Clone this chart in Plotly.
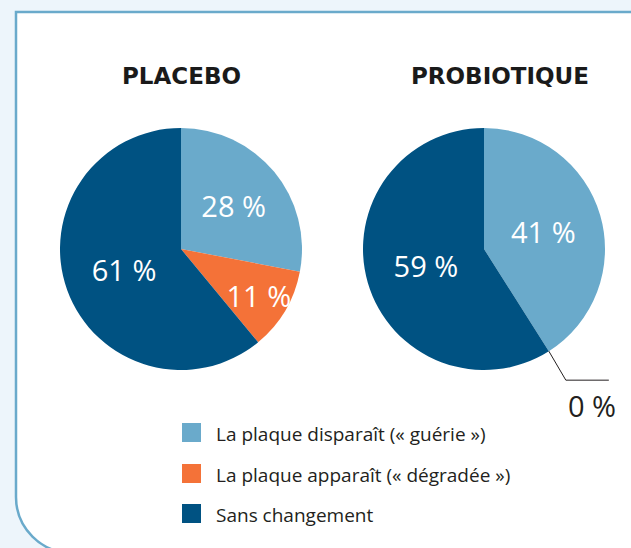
import math
import plotly.graph_objects as go

W, H = 631, 548

categories = ["La plaque disparaît (« guérie »)", "La plaque apparaît (« dégradée »)", "Sans changement"]
groups = ["PLACEBO", "PROBIOTIQUE"]
placebo_values = [28, 11, 61]
probiotique_values = [41, 0, 59]
colors = ["#6aaacb", "#f47238", "#005282"]

series = [placebo_values, probiotique_values]
centers_px = [(181, 249), (484, 249)]
radius_px = 121
title_x_px = [181, 500]
TEXT = "#231f20"
LABEL_FONT = dict(family="Open Sans", size=29)


def px(x):
    return x / W


def py(y):
    return 1 - y / H


fig = go.Figure()
for vals, (cx, cy) in zip(series, centers_px):
    fig.add_trace(go.Pie(
        values=vals,
        labels=categories,
        marker=dict(colors=colors, line=dict(width=0)),
        sort=False,
        direction="clockwise",
        rotation=0,
        texttemplate=["%{value} %" if v > 0 else "" for v in vals],
        textposition="inside",
        insidetextorientation="horizontal",
        textfont=dict(color="white", **LABEL_FONT),
        hoverinfo="label+value",
        showlegend=False,
        domain=dict(x=[px(cx - radius_px), px(cx + radius_px)],
                    y=[py(cy + radius_px), py(cy - radius_px)]),
    ))

shapes = []
# outer rounded panel
x0, y0, r = 16, 12, 56
x1, y1 = W + 20, 553
k = 0.45
path = (f"M {px(x1)},{py(y0)} L {px(x0)},{py(y0)} L {px(x0)},{py(y1 - r)} "
        f"C {px(x0)},{py(y1 - r*k)} {px(x0 + r*k)},{py(y1)} {px(x0 + r)},{py(y1)} "
        f"L {px(x1)},{py(y1)} Z")
shapes.append(dict(type="path", xref="paper", yref="paper", path=path,
                   fillcolor="white", line=dict(color="#6aaacb", width=2.5), layer="below"))

annotations = []
for g, tx in zip(groups, title_x_px):
    annotations.append(dict(text=f"<b>{g}</b>", x=px(tx), y=py(76), xref="paper", yref="paper",
                            showarrow=False, font=dict(family="DejaVu Sans", size=23, color="#1a1a1a"),
                            xanchor="center", yanchor="middle"))

# zero-value slices: leader line + outside label
for vals, (cx, cy) in zip(series, centers_px):
    total = sum(vals)
    cum = 0
    for v in vals:
        if v == 0:
            ang = 2 * math.pi * cum / total
            sx = cx + radius_px * math.sin(ang)
            sy = cy - radius_px * math.cos(ang)
            ex, ey = sx + 17, sy + 29
            shapes.append(dict(type="path", xref="paper", yref="paper",
                               path=f"M {px(sx)},{py(sy)} L {px(ex)},{py(ey)} L {px(ex + 43)},{py(ey)}",
                               line=dict(color=TEXT, width=1)))
            annotations.append(dict(text=f"{v} %", x=px(ex + 26), y=py(ey + 25), xref="paper", yref="paper",
                                    showarrow=False, font=dict(color=TEXT, **LABEL_FONT),
                                    xanchor="center", yanchor="middle"))
        cum += v

# legend
legend_y = [432.5, 473.5, 513.5]
for cat, col, ly in zip(categories, colors, legend_y):
    shapes.append(dict(type="rect", xref="paper", yref="paper",
                       x0=px(182), x1=px(201), y0=py(ly + 9.5), y1=py(ly - 9.5),
                       fillcolor=col, line=dict(width=0)))
    annotations.append(dict(text=cat, x=px(214), y=py(ly + 1), xref="paper", yref="paper",
                            showarrow=False, font=dict(family="Open Sans", size=19, color=TEXT),
                            xanchor="left", yanchor="middle"))

fig.update_layout(
    width=W, height=H,
    margin=dict(l=0, r=0, t=0, b=0),
    paper_bgcolor="#edf5fb",
    plot_bgcolor="#edf5fb",
    shapes=shapes,
    annotations=annotations,
    uniformtext=dict(minsize=29, mode="show"),
)

fig.write_html("out.html", config={"displayModeBar": False},
               post_script="document.body.style.margin='0';document.body.style.overflow='hidden';")
